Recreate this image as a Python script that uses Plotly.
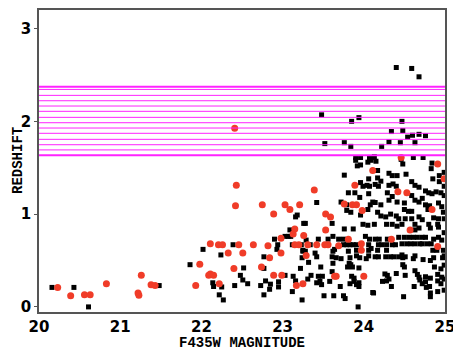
import plotly.graph_objects as go

# F435W magnitude / redshift, black squares
black_mag = [
    20.16, 20.43, 20.61, 21.48, 21.86, 22.02, 22.14, 22.15, 22.24, 22.22, 22.25, 22.27,
    22.39, 22.52, 22.48, 22.51, 22.57, 22.41, 22.77, 22.79, 22.73, 22.85, 22.84, 22.77,
    22.95, 22.95, 23.03, 23.13, 23.16, 23.12, 23.22, 23.24, 22.90, 22.94, 22.93, 23.03,
    23.07, 23.10, 23.09, 23.16, 23.18, 23.12, 23.26, 23.25, 22.77,
    23.52, 23.76, 23.84, 23.90, 23.90, 23.96, 23.96, 23.92, 24.05, 24.09, 24.11, 23.76,
    24.06, 23.96, 23.99, 24.04, 24.07, 23.81, 23.89, 24.06, 23.95, 23.42, 23.72, 23.79,
    24.08, 24.11, 24.05, 23.79, 23.84, 23.96, 23.99, 24.05, 23.28, 23.61,
    24.40, 24.59, 24.68, 23.48, 23.85, 23.94, 24.47, 24.34, 24.48, 24.54, 24.60, 24.68,
    24.76, 24.22, 24.31, 24.45, 24.63, 24.07, 24.61, 24.73, 24.48, 24.84, 24.83, 24.17,
    24.31, 24.35, 24.41, 24.52, 24.93, 24.85, 24.17,
    24.13, 24.15, 24.46, 24.93, 24.21, 24.14, 24.18, 24.31, 24.36, 24.40, 24.59, 24.63,
    24.68, 24.76, 24.80, 24.84, 24.89, 24.95, 24.14, 24.21, 24.29, 24.35, 24.31, 24.41,
    24.50, 24.59, 24.63, 24.68, 24.72, 24.76, 24.79, 24.81, 24.92, 24.96, 24.98, 24.17,
    24.21, 24.27, 24.33, 24.40, 24.43, 24.50, 24.55, 24.59, 24.51, 24.59, 24.68, 24.72,
    24.86, 24.92, 24.13, 24.28, 24.35, 24.47, 24.63, 24.80, 24.91,
    23.76, 23.87, 23.62, 23.56, 23.44, 23.69, 23.75, 24.02, 24.07, 23.75, 23.79, 23.83,
    23.87, 23.91, 24.06, 23.25, 23.28, 23.62, 23.64, 23.81, 23.91, 24.06, 24.09, 23.24,
    23.42, 23.61, 23.72, 23.83, 23.91, 23.95, 24.03, 24.06, 23.32, 23.82, 23.84, 23.86,
    23.47, 23.61, 23.80, 23.94, 23.31, 23.35, 23.44, 23.49, 23.46, 23.48, 23.58, 23.71,
    23.85, 23.88, 23.88, 23.91, 23.94, 23.83, 23.51, 23.63, 23.75, 23.77, 23.93, 24.11,
    23.23, 23.29, 23.34, 23.40, 23.42, 23.62, 23.66, 23.94,
    24.41, 24.63, 24.68, 24.82, 24.92, 24.14, 24.19, 24.29, 24.43, 24.50, 24.56, 24.61,
    24.66, 24.72, 24.76, 24.86, 24.92, 24.96, 24.18, 24.22, 24.28, 24.35, 24.39, 24.47,
    24.53, 24.58, 24.63, 24.69, 24.72, 24.78, 24.83, 24.17, 24.28, 24.85, 24.90, 24.98,
    24.14, 24.18, 24.27, 24.33, 24.37, 24.43, 24.47, 24.48, 24.51, 24.63, 24.61, 24.73,
    24.82, 24.86, 24.97, 24.48, 24.50, 24.87, 24.95, 24.26, 24.29, 24.40, 24.51, 24.63,
    24.66, 24.68, 24.76, 24.82, 24.91, 24.96, 24.31, 24.23, 24.28, 24.69, 24.76, 24.91,
    24.95, 24.34, 24.62, 24.72, 24.77, 24.81, 24.12, 24.49, 24.82, 24.91, 24.82,
    24.99, 24.99, 24.99, 24.99, 24.99, 24.99, 24.99, 24.99, 24.99,
]
black_z = [
    0.21, 0.21, 0.00, 0.23, 0.455, 0.62, 0.26, 0.22, 0.56, 0.13, 0.215, 0.075,
    0.67, 0.42, 0.34, 0.29, 0.25, 0.23, 0.415, 0.28, 0.23, 0.245, 0.19, 0.13,
    0.27, 0.215, 0.34, 0.33, 0.28, 0.165, 0.415, 0.075, 0.73, 0.67, 0.62, 0.76,
    0.76, 0.76, 0.83, 0.97, 0.99, 0.67, 0.90, 0.60, 0.54,
    1.76, 1.77, 1.73, 1.61, 1.58, 1.61, 1.53, 1.52, 1.56, 1.58, 1.61, 1.42,
    1.38, 1.34, 1.30, 1.31, 1.30, 1.23, 1.23, 1.22, 1.18, 1.125, 1.13, 1.10,
    1.10, 1.13, 1.05, 1.04, 1.02, 0.99, 0.89, 0.88, 0.90, 0.90,
    2.58, 2.57, 2.48, 2.07, 2.00, 2.04, 2.00, 1.89, 1.90, 1.83, 1.85, 1.86,
    1.845, 1.73, 1.78, 1.77, 1.77, 1.61, 1.61, 1.61, 1.54, 1.55, 1.49, 1.47,
    1.44, 1.415, 1.415, 1.43, 1.415, 1.38, 1.39,
    1.62, 1.57, 1.59, 1.35, 1.355, 1.32, 1.30, 1.31, 1.325, 1.30, 1.35, 1.31,
    1.29, 1.25, 1.23, 1.22, 1.24, 1.23, 1.125, 1.10, 1.23, 1.19, 1.15, 1.13,
    1.12, 1.20, 1.15, 1.13, 1.17, 1.10, 1.05, 1.09, 1.12, 1.08, 1.02, 1.02,
    0.98, 0.97, 1.00, 0.98, 0.95, 1.05, 1.03, 1.03, 0.95, 0.95, 0.97, 0.94,
    0.96, 0.95, 0.89, 0.89, 0.89, 0.89, 0.89, 0.89, 0.89,
    0.84, 0.84, 0.76, 0.73, 0.73, 0.73, 0.73, 0.76, 0.73, 0.67, 0.67, 0.67,
    0.67, 0.67, 0.67, 0.61, 0.60, 0.60, 0.62, 0.60, 0.61, 0.61, 0.63, 0.53,
    0.54, 0.54, 0.52, 0.53, 0.55, 0.53, 0.52, 0.55, 0.48, 0.47, 0.455, 0.43,
    0.43, 0.38, 0.43, 0.42, 0.30, 0.34, 0.33, 0.33, 0.275, 0.24, 0.275, 0.22,
    0.33, 0.31, 0.275, 0.24, 0.22, 0.25, 0.12, 0.12, 0.12, 0.09, 0.00, 0.155,
    0.67, 0.72, 0.67, 0.58, 0.26, 0.47, 0.53, 0.26,
    0.87, 0.83, 0.85, 0.85, 0.86, 0.73, 0.73, 0.73, 0.75, 0.75, 0.75, 0.75,
    0.75, 0.75, 0.75, 0.73, 0.75, 0.72, 0.67, 0.67, 0.67, 0.67, 0.67, 0.68,
    0.68, 0.68, 0.68, 0.68, 0.68, 0.68, 0.68, 0.61, 0.61, 0.61, 0.61, 0.61,
    0.54, 0.54, 0.54, 0.54, 0.54, 0.54, 0.56, 0.53, 0.54, 0.55, 0.52, 0.51,
    0.50, 0.53, 0.53, 0.455, 0.43, 0.43, 0.41, 0.355, 0.34, 0.36, 0.34, 0.39,
    0.35, 0.32, 0.325, 0.31, 0.35, 0.32, 0.30, 0.275, 0.28, 0.29, 0.27, 0.28,
    0.25, 0.22, 0.22, 0.25, 0.21, 0.22, 0.15, 0.11, 0.15, 0.165, 0.11,
    1.45, 1.30, 1.20, 0.95, 0.80, 0.55, 0.45, 0.30, 0.18,
]

# red circles
red_mag = [
    20.23, 20.39, 20.56, 20.63, 20.83, 21.22, 21.23, 21.26, 21.38, 21.43, 21.93, 21.98,
    22.11, 22.09, 22.11, 22.15, 22.21, 22.26, 22.22, 22.33, 22.43, 22.42, 22.75, 22.89,
    23.03, 23.09, 23.21, 23.15, 23.13, 22.98, 23.26, 22.46, 22.51, 22.64, 22.82, 22.84,
    22.98, 23.15, 23.20, 22.40, 22.74, 22.89, 22.99, 23.17, 23.25, 23.39, 23.76, 23.86,
    23.91, 23.98, 23.53, 23.59, 23.89, 24.11, 23.53, 23.31, 23.42, 23.52, 23.56, 23.69,
    23.81, 23.97, 23.97, 23.29, 23.64, 23.66, 24.00, 24.91, 24.99, 24.42, 24.53, 24.84,
    24.57, 24.34, 24.91, 22.41, 24.46,
]
red_z = [
    0.21, 0.12, 0.13, 0.13, 0.25, 0.15, 0.125, 0.34, 0.24, 0.23, 0.23, 0.46,
    0.68, 0.34, 0.355, 0.34, 0.67, 0.67, 0.25, 0.58, 1.31, 1.09, 1.10, 1.00,
    1.10, 1.05, 1.10, 0.84, 0.785, 0.74, 0.77, 0.67, 0.58, 0.67, 0.66, 0.53,
    0.58, 0.67, 0.67, 0.415, 0.43, 0.34, 0.34, 0.23, 0.25, 1.26, 1.11, 1.10,
    1.10, 1.04, 1.00, 0.97, 1.31, 1.47, 0.83, 0.67, 0.67, 0.67, 0.67, 0.66,
    0.73, 0.68, 0.61, 0.555, 0.33, 0.33, 0.33, 1.54, 1.38, 1.24, 1.23, 1.05,
    0.83, 0.73, 0.65, 1.925, 1.61,
]

# horizontal magenta band
band_z = [2.372, 2.344, 2.280, 2.222, 2.165, 2.108, 2.043, 1.985, 1.928,
          1.871, 1.806, 1.748, 1.692, 1.634]

fig = go.Figure()

fig.add_trace(go.Scatter(
    x=black_mag, y=black_z, mode="markers",
    marker=dict(symbol="square", size=5, color="black", line=dict(width=0)),
))
fig.add_trace(go.Scatter(
    x=red_mag, y=red_z, mode="markers",
    marker=dict(symbol="circle", size=7, color="#f03c28", line=dict(width=0)),
))

for i, z in enumerate(band_z):
    w = 2 if i in (0, len(band_z) - 1) else 1
    fig.add_hline(y=z, line=dict(color="#ff22ff", width=w))

tick_font = dict(family="DejaVu Sans", size=15, color="black", weight="bold")
title_font = dict(family="Liberation Mono", size=14, color="black", weight="bold")

# page body adds an 8px margin, so the figure is a bit smaller than the window
fig.update_layout(
    width=453, height=347,
    margin=dict(l=31, r=16, t=2, b=43),
    paper_bgcolor="white", plot_bgcolor="white",
    showlegend=False,
)
fig.update_xaxes(
    range=[20, 25], tickvals=[20, 21, 22, 23, 24, 25],
    showgrid=False, zeroline=False, automargin=False,
    showline=True, mirror=True, linecolor="#555", linewidth=1.5,
    ticks="", tickfont=tick_font,
)
fig.update_yaxes(
    range=[-0.055, 3.2], tickvals=[0, 1, 2, 3],
    showgrid=False, zeroline=False, automargin=False,
    showline=True, mirror=True, linecolor="#555", linewidth=1.5,
    ticks="outside", ticklen=3, tickcolor="#555", tickfont=tick_font,
)

# axis titles
fig.add_annotation(text="F435W MAGNITUDE", xref="paper", yref="paper",
                   x=0.5, y=0, xanchor="center", yanchor="top", yshift=-21,
                   showarrow=False, font=title_font)
fig.add_annotation(text="REDSHIFT", xref="paper", yref="paper",
                   x=0, y=0.5, xanchor="center", yanchor="middle", xshift=-21,
                   textangle=-90, showarrow=False, font=title_font)

fig.write_html("out.html")
